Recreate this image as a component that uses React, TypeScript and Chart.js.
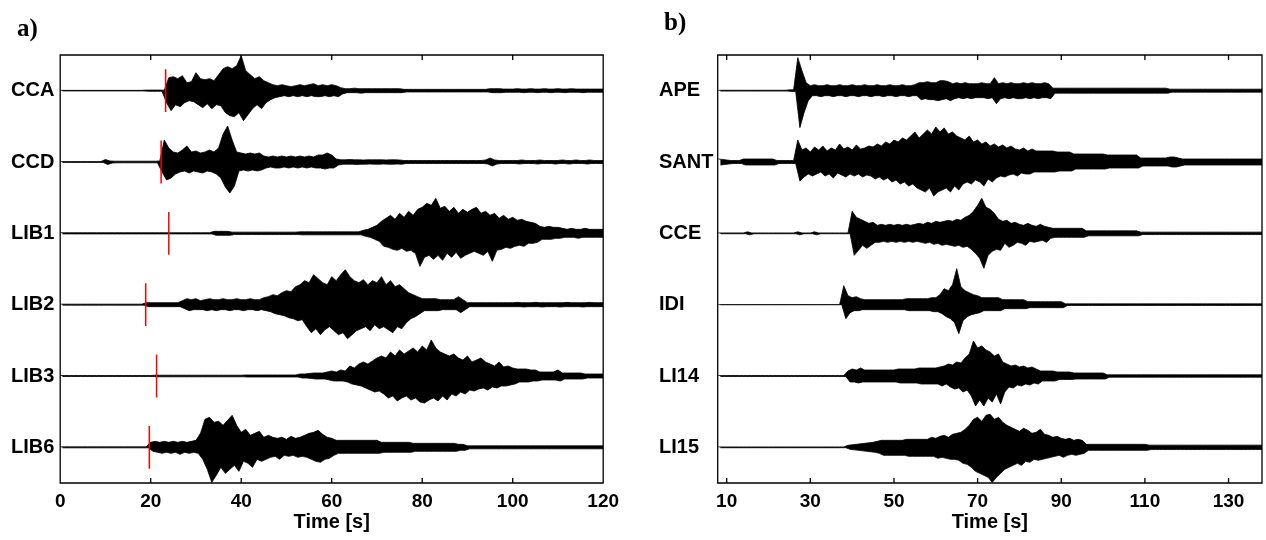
import React, { useEffect, useRef } from "react";
import { Chart, registerables } from "chart.js";

Chart.register(...registerables);

// ---------------- data ----------------
// Station names (top to bottom)
const STATIONS_A = ["CCA", "CCD", "LIB1", "LIB2", "LIB3", "LIB6"];
const STATIONS_B = ["APE", "SANT", "CCE", "IDI", "LI14", "LI15"];

// Time axis
const START_A = 0; // first second of panel a envelopes
const START_B = 8; // first second of panel b envelopes
const RANGE_A = [0, 120];
const RANGE_B = [7.85, 138];
const TICKS_A = [0, 20, 40, 60, 80, 100, 120];
const TICKS_B = [10, 30, 50, 70, 90, 110, 130];

// P-wave picks (s), panel a
const PICKS_A = [23.3, 22.3, 24.0, 18.9, 21.3, 19.7];

// Peak amplitudes per second (UP = upward swing, DN = downward swing), read
// from the traces; unit: 1/71.3 of the trace spacing.
const CCA_UP = [
  0.3, 0.3, 0.3, 0.3, 0.3, 0.3, 0.3, 0.3, 0.3, 0.3,
  0.3, 0.3, 0.3, 0.3, 0.3, 0.3, 0.3, 0.3, 0.3, 0.6,
  0.6, 0.6, 0.6, 0.5, 13, 14, 12, 15, 8, 9,
  18, 12, 11, 12, 10, 16, 22, 24, 22, 25,
  35, 20, 16, 12, 14, 10, 8, 6, 5, 6,
  5, 4, 5, 6, 5, 6, 7, 5, 6, 5,
  6, 5, 3, 2, 2, 2.5, 2, 2, 2, 2,
  2, 2, 2, 2, 2, 2, 1.3, 1.3, 1.3, 1.3,
  1.3, 1.3, 1.3, 1.3, 1.3, 1.3, 1.3, 1.3, 1.3, 1.3,
  1.3, 1.3, 1.3, 1.3, 1.3, 2, 2, 2, 1.6, 1.6,
  1.6, 2, 1.6, 1.6, 2, 1.6, 1.6, 2, 1.6, 1.6,
  2, 1.6, 1.6, 2, 1.6, 1.6, 1.6, 1.6, 1.6, 1.6,
  1.6,
];
const CCA_DN = [
  0.3, 0.3, 0.3, 0.3, 0.3, 0.3, 0.3, 0.3, 0.3, 0.3,
  0.3, 0.3, 0.3, 0.3, 0.3, 0.3, 0.3, 0.3, 0.3, 0.6,
  0.6, 0.6, 0.6, 12, 20, 14, 16, 12, 10, 11,
  14, 17, 13, 18, 14, 15, 22, 25, 26, 22,
  30, 24, 18, 14, 18, 12, 9, 7, 6, 5,
  6, 5, 6, 5, 6, 5, 6, 6, 5, 6,
  5, 6, 3, 2, 2, 2, 2.5, 2, 2, 2,
  2, 2, 2, 2, 2, 2, 1.3, 1.3, 1.3, 1.3,
  1.3, 1.3, 1.3, 1.3, 1.3, 1.3, 1.3, 1.3, 1.3, 1.3,
  1.3, 1.3, 1.3, 1.3, 1.3, 2, 2, 2, 1.6, 1.6,
  1.6, 1.6, 2, 1.6, 1.6, 2, 1.6, 1.6, 2, 1.6,
  1.6, 2, 1.6, 1.6, 1.6, 2, 1.6, 1.6, 1.6, 1.6,
  1.6,
];
const CCD_UP = [
  0.4, 0.4, 0.4, 0.4, 0.4, 0.4, 0.4, 0.4, 0.4, 0.4,
  2.5, 1, 0.8, 0.8, 0.8, 0.8, 0.8, 0.8, 0.8, 0.8,
  0.8, 0.8, 1, 22, 14, 10, 9, 12, 16, 10,
  11, 9, 10, 12, 10, 14, 28, 36, 22, 10,
  9, 8, 9, 8, 9, 6, 5, 6, 5, 6,
  5, 6, 5, 6, 5, 6, 5, 7, 7, 9,
  7, 3, 2.2, 2.2, 2.5, 2.2, 2.2, 2, 2.2, 2.2,
  2.2, 2.2, 2, 2.2, 2.2, 2, 1.5, 1.5, 1.5, 1.5,
  1.5, 1.5, 1.5, 1.5, 1.5, 1.5, 1.5, 1.5, 1.5, 1.5,
  1.5, 1.5, 1.5, 1.5, 2, 4, 2, 1.5, 1.5, 1.5,
  1.5, 1.5, 2, 1.5, 1.5, 1.5, 2, 1.5, 1.5, 1.5,
  1.5, 2, 1.5, 1.5, 2, 1.5, 1.5, 2, 1.5, 1.5,
  1.5,
];
const CCD_DN = [
  0.4, 0.4, 0.4, 0.4, 0.4, 0.4, 0.4, 0.4, 0.4, 0.4,
  2.5, 1, 0.8, 0.8, 0.8, 0.8, 0.8, 0.8, 0.8, 0.8,
  0.8, 0.8, 10, 18, 16, 12, 10, 9, 11, 9,
  10, 11, 9, 10, 12, 16, 25, 31, 24, 9,
  8, 9, 8, 9, 8, 6, 5, 6, 6, 5,
  6, 5, 6, 5, 6, 5, 6, 6, 7, 6,
  6, 3, 2.2, 2.2, 2.2, 2.5, 2.2, 2.2, 2, 2.2,
  2.2, 2, 2.2, 2.2, 2, 2.2, 1.5, 1.5, 1.5, 1.5,
  1.5, 1.5, 1.5, 1.5, 1.5, 1.5, 1.5, 1.5, 1.5, 1.5,
  1.5, 1.5, 1.5, 1.5, 2, 4, 2, 1.5, 1.5, 1.5,
  1.5, 2, 1.5, 1.5, 1.5, 2, 1.5, 1.5, 1.5, 2,
  1.5, 1.5, 2, 1.5, 1.5, 1.5, 2, 1.5, 1.5, 1.5,
  1.5,
];
const LIB1_UP = [
  0.6, 0.6, 0.6, 0.6, 0.6, 0.6, 0.6, 0.6, 0.6, 0.6,
  0.6, 0.6, 0.6, 0.6, 0.6, 0.6, 0.6, 0.6, 0.6, 0.6,
  0.6, 0.6, 0.6, 0.6, 0.6, 0.6, 0.6, 0.6, 0.6, 0.6,
  0.6, 0.6, 0.6, 0.6, 2, 2, 2, 2, 1.2, 1.2,
  1.2, 1.2, 1.2, 1.2, 1.2, 1.2, 1.2, 1.2, 1.2, 1.2,
  1.2, 1.2, 1.2, 1.5, 1.5, 1.5, 1.5, 1.5, 1.5, 1.5,
  1.5, 1.5, 1.5, 1.5, 1.5, 1.5, 1.5, 3, 4, 6,
  8, 12, 15, 18, 14, 20, 16, 22, 18, 24,
  26, 30, 28, 35, 25, 27, 22, 26, 20, 24,
  21, 24, 26, 20, 22, 18, 20, 15, 18, 14,
  16, 13, 14, 12, 11, 10, 7, 6, 7, 6,
  6, 5, 4, 5, 4, 4, 5, 4, 4, 4,
  4,
];
const LIB1_DN = [
  0.6, 0.6, 0.6, 0.6, 0.6, 0.6, 0.6, 0.6, 0.6, 0.6,
  0.6, 0.6, 0.6, 0.6, 0.6, 0.6, 0.6, 0.6, 0.6, 0.6,
  0.6, 0.6, 0.6, 0.6, 0.6, 0.6, 0.6, 0.6, 0.6, 0.6,
  0.6, 0.6, 0.6, 0.6, 2, 2, 2, 2, 1.2, 1.2,
  1.2, 1.2, 1.2, 1.2, 1.2, 1.2, 1.2, 1.2, 1.2, 1.2,
  1.2, 1.2, 1.2, 1.5, 1.5, 1.5, 1.5, 1.5, 1.5, 1.5,
  1.5, 1.5, 1.5, 1.5, 1.5, 1.5, 1.5, 3, 4, 6,
  8, 13, 14, 16, 17, 15, 18, 17, 20, 33,
  24, 22, 26, 22, 27, 20, 24, 19, 25, 22,
  20, 18, 20, 22, 18, 28, 17, 16, 14, 15,
  13, 12, 13, 10, 10, 9, 6, 6, 6, 5,
  5, 4, 4, 4, 5, 4, 4, 4, 4, 4,
  4,
];
const LIB2_UP = [
  0.5, 0.5, 0.5, 0.5, 0.5, 0.5, 0.5, 0.5, 0.5, 0.5,
  0.5, 0.5, 0.5, 0.5, 0.5, 0.5, 0.5, 0.5, 0.5, 2,
  2, 2, 2, 2, 2, 2, 2, 4, 6, 5,
  6, 4, 5, 6, 5, 5, 6, 5, 5, 6,
  5, 5, 6, 5, 5, 7, 8, 10, 9, 12,
  14, 13, 18, 20, 24, 22, 30, 26, 22, 20,
  28, 24, 30, 35, 28, 24, 22, 25, 20, 24,
  22, 28, 20, 24, 18, 20, 16, 12, 10, 8,
  6, 6, 6, 6, 5, 5, 5, 5, 8, 5,
  2, 2, 2, 2, 2, 2, 2, 2, 2, 2,
  2, 2.3, 2, 2, 2, 2.3, 2, 2, 2, 2,
  2, 2, 2.3, 2, 2, 2, 2, 2.3, 2, 2,
  2,
];
const LIB2_DN = [
  0.5, 0.5, 0.5, 0.5, 0.5, 0.5, 0.5, 0.5, 0.5, 0.5,
  0.5, 0.5, 0.5, 0.5, 0.5, 0.5, 0.5, 0.5, 0.5, 2,
  2, 2, 2, 2, 2, 2, 2, 4, 6, 5,
  5, 5, 6, 5, 6, 5, 5, 6, 5, 5,
  6, 5, 5, 6, 5, 6, 7, 9, 10, 11,
  13, 14, 16, 15, 22, 28, 24, 30, 25, 22,
  26, 30, 28, 34, 30, 26, 24, 22, 26, 20,
  24, 22, 25, 28, 22, 24, 18, 14, 12, 9,
  6, 6, 6, 6, 5, 5, 5, 5, 8, 5,
  2, 2, 2, 2, 2, 2, 2, 2, 2, 2,
  2, 2, 2.3, 2, 2, 2, 2.3, 2, 2, 2,
  2.3, 2, 2, 2, 2, 2.3, 2, 2, 2, 2,
  2,
];
const LIB3_UP = [
  0.5, 0.5, 0.5, 0.5, 0.5, 0.5, 0.5, 0.5, 0.5, 0.5,
  0.5, 0.5, 0.5, 0.5, 0.5, 0.5, 0.5, 0.5, 0.5, 0.5,
  0.5, 0.8, 0.8, 0.8, 0.8, 0.8, 0.8, 0.8, 0.8, 0.8,
  0.8, 0.8, 0.8, 0.8, 0.8, 0.8, 0.8, 0.8, 0.8, 0.8,
  0.8, 1, 1, 1, 1, 1, 1, 1, 1, 1,
  1, 1, 1, 2, 2, 2.5, 3, 3, 3, 4,
  5, 4, 6, 5, 10, 8, 12, 14, 12, 15,
  18, 20, 18, 24, 20, 26, 22, 25, 28, 24,
  30, 26, 36, 28, 24, 22, 20, 22, 18, 16,
  20, 14, 16, 18, 14, 12, 10, 14, 9, 10,
  8, 7, 7, 7, 6, 6, 4, 4, 4, 4,
  6, 3, 3, 3, 3, 3, 2, 2, 2, 2,
  2,
];
const LIB3_DN = [
  0.5, 0.5, 0.5, 0.5, 0.5, 0.5, 0.5, 0.5, 0.5, 0.5,
  0.5, 0.5, 0.5, 0.5, 0.5, 0.5, 0.5, 0.5, 0.5, 0.5,
  0.5, 0.8, 0.8, 0.8, 0.8, 0.8, 0.8, 0.8, 0.8, 0.8,
  0.8, 0.8, 0.8, 0.8, 0.8, 0.8, 0.8, 0.8, 0.8, 0.8,
  0.8, 1, 1, 1, 1, 1, 1, 1, 1, 1,
  1, 1, 1, 2, 2, 2.5, 3, 3, 3, 4,
  5, 5, 5, 6, 8, 9, 10, 12, 14, 16,
  15, 18, 22, 20, 25, 22, 20, 24, 22, 26,
  27, 24, 22, 25, 20, 24, 18, 20, 16, 18,
  14, 15, 13, 12, 14, 11, 12, 10, 10, 9,
  8, 6, 6, 6, 5, 5, 4, 4, 4, 4,
  5, 3, 3, 3, 3, 3, 2, 2, 2, 2,
  2,
];
const LIB6_UP = [
  0.5, 0.5, 0.5, 0.5, 0.5, 0.5, 0.5, 0.5, 0.5, 0.5,
  0.5, 0.5, 0.5, 0.5, 0.5, 0.5, 0.5, 0.5, 0.5, 0.5,
  5, 6, 5, 6, 5, 6, 5, 6, 5, 6,
  7, 14, 28, 30, 25, 26, 22, 27, 32, 22,
  15, 18, 12, 14, 16, 10, 12, 10, 9, 10,
  8, 11, 9, 10, 12, 14, 15, 17, 13, 10,
  9, 7, 7, 7, 7, 7, 7, 7, 7, 7,
  7, 5, 5, 5, 5, 5, 5, 5, 4, 4,
  4, 4, 4, 4, 4, 4, 4, 4, 3, 3,
  1.5, 1.5, 1.5, 1.5, 1.5, 1.5, 1.5, 1.5, 1.5, 1.5,
  1.5, 1.5, 1.5, 1.5, 1.5, 1.5, 1.5, 1.5, 1.5, 1.5,
  1.5, 1.5, 1.5, 1.5, 1.5, 1.5, 1.5, 1.5, 1.5, 1.5,
  1.5,
];
const LIB6_DN = [
  0.5, 0.5, 0.5, 0.5, 0.5, 0.5, 0.5, 0.5, 0.5, 0.5,
  0.5, 0.5, 0.5, 0.5, 0.5, 0.5, 0.5, 0.5, 0.5, 0.5,
  4, 5, 6, 5, 6, 5, 7, 5, 6, 5,
  6, 12, 22, 35, 28, 20, 26, 22, 18, 24,
  14, 16, 20, 12, 14, 12, 10, 9, 12, 8,
  9, 8, 10, 9, 10, 12, 14, 15, 12, 11,
  8, 6, 6, 6, 6, 6, 6, 6, 6, 6,
  6, 5, 5, 5, 5, 5, 5, 5, 4, 4,
  4, 4, 4, 4, 4, 4, 4, 4, 3, 3,
  1.5, 1.5, 1.5, 1.5, 1.5, 1.5, 1.5, 1.5, 1.5, 1.5,
  1.5, 1.5, 1.5, 1.5, 1.5, 1.5, 1.5, 1.5, 1.5, 1.5,
  1.5, 1.5, 1.5, 1.5, 1.5, 1.5, 1.5, 1.5, 1.5, 1.5,
  1.5,
];

// Panel b, seconds 8..138
const APE_UP = [
  0.4, 0.4, 0.4, 0.4, 0.4, 0.4, 0.4, 0.4, 0.4, 0.4,
  0.4, 0.4, 0.4, 0.4, 0.4, 0.4, 0.4, 0.8, 0.8, 33,
  20, 8, 5, 6, 5, 5, 6, 5, 5, 6,
  5, 5, 6, 5, 5, 6, 5, 5, 6, 5,
  5, 6, 5, 5, 6, 5, 5, 6, 8, 8,
  9, 8, 8, 10, 10, 9, 7, 8, 7, 8,
  7, 7, 7, 8, 7, 7, 13, 7, 8, 7,
  8, 7, 7, 8, 7, 8, 7, 7, 8, 7,
  2.5, 2.5, 2.5, 2.5, 2.5, 2.5, 2.5, 2.5, 2.5, 2.5,
  2.5, 2.5, 2.5, 2.5, 2.5, 2.5, 2.5, 2.5, 2.5, 2.5,
  2.5, 2.5, 2.5, 2.5, 2.5, 2.5, 2.5, 2.5, 1.5, 1.5,
  1.5, 1.5, 1.5, 1.5, 1.5, 1.5, 1.5, 1.5, 1.5, 1.5,
  1.5, 1.5, 1.5, 1.5, 1.5, 1.5, 1.5, 1.5, 1.5, 1.5,
  1.5,
];
const APE_DN = [
  0.4, 0.4, 0.4, 0.4, 0.4, 0.4, 0.4, 0.4, 0.4, 0.4,
  0.4, 0.4, 0.4, 0.4, 0.4, 0.4, 0.4, 0.8, 0.8, 37,
  22, 10, 5, 5, 6, 5, 5, 6, 5, 5,
  6, 5, 5, 6, 5, 5, 6, 5, 5, 6,
  5, 5, 6, 5, 5, 6, 5, 5, 9, 8,
  9, 9, 10, 9, 8, 10, 8, 7, 8, 7,
  8, 7, 7, 7, 8, 7, 13, 8, 7, 8,
  7, 8, 8, 7, 8, 7, 8, 7, 7, 8,
  2.5, 2.5, 2.5, 2.5, 2.5, 2.5, 2.5, 2.5, 2.5, 2.5,
  2.5, 2.5, 2.5, 2.5, 2.5, 2.5, 2.5, 2.5, 2.5, 2.5,
  2.5, 2.5, 2.5, 2.5, 2.5, 2.5, 2.5, 2.5, 1.5, 1.5,
  1.5, 1.5, 1.5, 1.5, 1.5, 1.5, 1.5, 1.5, 1.5, 1.5,
  1.5, 1.5, 1.5, 1.5, 1.5, 1.5, 1.5, 1.5, 1.5, 1.5,
  1.5,
];
const SANT_UP = [
  3, 2.5, 2, 1.5, 1.5, 1.5, 3, 3, 3, 3,
  3, 3, 3, 3, 1.5, 1.5, 1.5, 1.5, 1.5, 22,
  12, 14, 10, 15, 12, 16, 11, 14, 12, 18,
  13, 15, 12, 17, 13, 14, 16, 15, 18, 16,
  20, 18, 22, 20, 24, 22, 26, 30, 24, 28,
  32, 28, 35, 30, 34, 28, 30, 26, 24, 22,
  26, 20, 22, 18, 20, 16, 18, 15, 17, 14,
  16, 13, 12, 14, 11, 13, 11, 11, 11, 11,
  11, 10, 10, 10, 10, 8, 8, 8, 8, 8,
  8, 8, 8, 7, 7, 7, 7, 7, 7, 7,
  7, 4, 4, 4, 4, 4, 4, 4, 5, 5,
  4, 3, 3, 3, 3, 3, 3, 3, 3, 3,
  3, 3, 3, 3, 3, 3, 3, 3, 3, 3,
  3,
];
const SANT_DN = [
  3, 2.5, 2, 1.5, 1.5, 1.5, 3, 3, 3, 3,
  3, 3, 3, 3, 1.5, 1.5, 1.5, 1.5, 1.5, 19,
  15, 12, 14, 12, 10, 14, 12, 16, 11, 13,
  15, 12, 14, 12, 15, 13, 14, 17, 15, 18,
  16, 20, 18, 22, 20, 24, 22, 26, 28, 30,
  26, 34, 30, 28, 26, 30, 24, 28, 22, 20,
  22, 18, 20, 24, 17, 20, 16, 14, 15, 13,
  12, 14, 11, 12, 12, 10, 10, 10, 10, 10,
  10, 9, 9, 9, 9, 7, 7, 7, 7, 7,
  7, 7, 7, 6, 6, 6, 6, 6, 6, 6,
  6, 4, 4, 4, 4, 4, 4, 4, 5, 5,
  4, 3, 3, 3, 3, 3, 3, 3, 3, 3,
  3, 3, 3, 3, 3, 3, 3, 3, 3, 3,
  3,
];
const CCE_UP = [
  0.4, 0.4, 0.4, 0.4, 0.4, 0.4, 0.4, 1.5, 0.4, 0.4,
  0.4, 0.4, 0.4, 0.4, 0.4, 0.4, 0.4, 0.4, 0.4, 1.5,
  0.4, 0.4, 0.4, 1.5, 0.4, 0.4, 0.4, 0.4, 0.4, 0.4,
  0.4, 0.4, 22, 16, 14, 12, 10, 11, 8, 9,
  8, 9, 8, 9, 8, 9, 8, 9, 10, 9,
  11, 10, 12, 11, 12, 13, 12, 14, 13, 16,
  18, 22, 28, 35, 26, 24, 20, 14, 12, 13,
  10, 11, 9, 8, 10, 8, 7, 9, 7, 6,
  5, 5, 5, 5, 5, 5, 5, 5, 2.5, 2.5,
  2.5, 2.5, 2.5, 2.5, 2.5, 2.5, 2.5, 2.5, 2.5, 2.5,
  2.5, 1.2, 1.2, 1.2, 1.2, 1.2, 1.2, 1.2, 1.2, 1.2,
  1.2, 1.2, 1.2, 1.2, 1.2, 1.2, 1.2, 1.2, 1.2, 1.2,
  1.2, 1.2, 1.2, 1.2, 1.2, 1.2, 1.2, 1.2, 1.2, 1.2,
  1.2,
];
const CCE_DN = [
  0.4, 0.4, 0.4, 0.4, 0.4, 0.4, 0.4, 1.5, 0.4, 0.4,
  0.4, 0.4, 0.4, 0.4, 0.4, 0.4, 0.4, 0.4, 0.4, 1.5,
  0.4, 0.4, 0.4, 1.5, 0.4, 0.4, 0.4, 0.4, 0.4, 0.4,
  0.4, 0.4, 22, 17, 12, 15, 12, 9, 9, 8,
  9, 8, 9, 8, 9, 8, 9, 8, 9, 10,
  9, 11, 10, 12, 11, 12, 13, 12, 14, 13,
  16, 20, 25, 35, 22, 18, 16, 17, 10, 14,
  12, 9, 10, 12, 8, 9, 8, 7, 9, 5,
  4, 4, 4, 4, 4, 4, 4, 4, 2.5, 2.5,
  2.5, 2.5, 2.5, 2.5, 2.5, 2.5, 2.5, 2.5, 2.5, 2.5,
  2.5, 1.2, 1.2, 1.2, 1.2, 1.2, 1.2, 1.2, 1.2, 1.2,
  1.2, 1.2, 1.2, 1.2, 1.2, 1.2, 1.2, 1.2, 1.2, 1.2,
  1.2, 1.2, 1.2, 1.2, 1.2, 1.2, 1.2, 1.2, 1.2, 1.2,
  1.2,
];
const IDI_UP = [
  0, 0, 0, 0, 0, 0, 0, 0, 0, 0,
  0, 0, 0, 0, 0, 0, 0, 0, 0, 0,
  0, 0, 0, 0, 0, 0, 0, 0, 0, 0,
  19, 9, 7, 8, 6, 5, 5, 5, 5, 5,
  5, 5, 5, 5, 5, 6, 6, 6, 6, 6,
  6, 7, 7, 10, 16, 14, 20, 36, 18, 14,
  12, 10, 9, 7, 7, 7, 7, 7, 5, 5,
  5, 5, 5, 5, 3, 3, 3, 3, 3, 3,
  3, 3, 3, 0.8, 0.8, 0.8, 0.8, 0.8, 0.8, 0.8,
  0.8, 0.8, 0.8, 0.8, 0.8, 0.8, 0.8, 0.8, 0.8, 0.8,
  0.8, 0.8, 0.8, 0.8, 0.8, 0.8, 0.8, 0.8, 0.8, 0.8,
  0.8, 0.8, 0.8, 0.8, 0.8, 0.8, 0.8, 0.8, 0.8, 0.8,
  0.8, 0.8, 0.8, 0.8, 0.8, 0.8, 0.8, 0.8, 0.8, 0.8,
  0.8,
];
const IDI_DN = [
  0, 0, 0, 0, 0, 0, 0, 0, 0, 0,
  0, 0, 0, 0, 0, 0, 0, 0, 0, 0,
  0, 0, 0, 0, 0, 0, 0, 0, 0, 0,
  14, 8, 6, 6, 5, 5, 5, 5, 5, 5,
  5, 5, 5, 5, 5, 6, 6, 6, 6, 6,
  6, 7, 7, 9, 12, 14, 18, 29, 16, 12,
  10, 9, 8, 6, 6, 6, 6, 6, 4, 4,
  4, 4, 4, 4, 3, 3, 3, 3, 3, 3,
  3, 3, 3, 0.8, 0.8, 0.8, 0.8, 0.8, 0.8, 0.8,
  0.8, 0.8, 0.8, 0.8, 0.8, 0.8, 0.8, 0.8, 0.8, 0.8,
  0.8, 0.8, 0.8, 0.8, 0.8, 0.8, 0.8, 0.8, 0.8, 0.8,
  0.8, 0.8, 0.8, 0.8, 0.8, 0.8, 0.8, 0.8, 0.8, 0.8,
  0.8, 0.8, 0.8, 0.8, 0.8, 0.8, 0.8, 0.8, 0.8, 0.8,
  0.8,
];
const LI14_UP = [
  0.5, 0.5, 0.5, 0.5, 0.5, 0.5, 0.5, 0.5, 0.5, 0.5,
  0.5, 0.5, 0.5, 0.5, 0.5, 0.5, 0.5, 0.5, 0.5, 0.5,
  0.5, 0.5, 0.5, 0.5, 0.5, 0.5, 0.5, 0.5, 0.5, 0.5,
  0.5, 5, 7, 6, 8, 6, 6, 6, 6, 6,
  6, 6, 6, 7, 7, 7, 7, 7, 8, 8,
  8, 8, 8, 9, 10, 12, 11, 14, 13, 18,
  22, 35, 28, 30, 26, 24, 20, 22, 14, 12,
  10, 11, 9, 10, 8, 9, 7, 5, 5, 5,
  5, 4, 4, 4, 4, 3, 3, 3, 3, 3,
  3, 3, 3, 1.2, 1.2, 1.2, 1.2, 1.2, 1.2, 1.2,
  1.2, 1.2, 1.2, 1.2, 1.2, 1.2, 1.2, 1.2, 1.2, 1.2,
  1.2, 1.2, 1.2, 1.2, 1.2, 1.2, 1.2, 1.2, 1.2, 1.2,
  1.2, 1.2, 1.2, 1.2, 1.2, 1.2, 1.2, 1.2, 1.2, 1.2,
  1.2,
];
const LI14_DN = [
  0.5, 0.5, 0.5, 0.5, 0.5, 0.5, 0.5, 0.5, 0.5, 0.5,
  0.5, 0.5, 0.5, 0.5, 0.5, 0.5, 0.5, 0.5, 0.5, 0.5,
  0.5, 0.5, 0.5, 0.5, 0.5, 0.5, 0.5, 0.5, 0.5, 0.5,
  0.5, 6, 6, 7, 6, 6, 6, 6, 6, 6,
  6, 6, 6, 7, 7, 7, 7, 7, 8, 8,
  8, 8, 8, 10, 8, 11, 13, 12, 16, 14,
  20, 30, 24, 30, 22, 26, 18, 28, 16, 11,
  12, 9, 10, 8, 9, 7, 8, 5, 5, 5,
  5, 3.5, 3.5, 3.5, 3.5, 3, 3, 3, 3, 3,
  3, 3, 3, 1.2, 1.2, 1.2, 1.2, 1.2, 1.2, 1.2,
  1.2, 1.2, 1.2, 1.2, 1.2, 1.2, 1.2, 1.2, 1.2, 1.2,
  1.2, 1.2, 1.2, 1.2, 1.2, 1.2, 1.2, 1.2, 1.2, 1.2,
  1.2, 1.2, 1.2, 1.2, 1.2, 1.2, 1.2, 1.2, 1.2, 1.2,
  1.2,
];
const LI15_UP = [
  0.4, 0.4, 0.4, 0.4, 0.4, 0.4, 0.4, 0.4, 0.4, 0.4,
  0.4, 0.4, 0.4, 0.4, 0.4, 0.4, 0.4, 0.4, 0.4, 0.4,
  0.4, 0.4, 0.4, 0.4, 0.4, 0.4, 0.4, 0.4, 0.4, 0.4,
  0.4, 2, 2.5, 3, 3.5, 4, 4.5, 5, 6, 7,
  7, 7, 7, 7, 7, 8, 8, 8, 8, 8,
  8, 10, 9, 11, 12, 10, 13, 14, 15, 18,
  22, 28, 30, 26, 32, 33, 28, 30, 25, 22,
  20, 18, 16, 19, 17, 14, 15, 18, 13, 12,
  10, 11, 9, 8, 9, 7, 8, 7, 3, 3,
  3, 3, 3, 3, 3, 3, 3, 3, 3, 3,
  3, 3, 3, 2.2, 2.2, 2.2, 2.2, 2.2, 2.2, 2.2,
  2.2, 2.2, 2.2, 2.2, 2.2, 2.2, 2.2, 2.2, 2.2, 2.2,
  2.2, 2.2, 2.2, 2.2, 2.2, 2.2, 2.2, 2.2, 2.2, 2.2,
  2.2,
];
const LI15_DN = [
  0.4, 0.4, 0.4, 0.4, 0.4, 0.4, 0.4, 0.4, 0.4, 0.4,
  0.4, 0.4, 0.4, 0.4, 0.4, 0.4, 0.4, 0.4, 0.4, 0.4,
  0.4, 0.4, 0.4, 0.4, 0.4, 0.4, 0.4, 0.4, 0.4, 0.4,
  0.4, 2, 2.5, 3, 3.5, 4, 4.5, 5, 6, 8,
  8, 8, 8, 8, 8, 9, 9, 9, 9, 9,
  9, 9, 11, 10, 11, 12, 12, 13, 16, 17,
  20, 24, 26, 28, 30, 35, 30, 26, 22, 20,
  18, 16, 18, 14, 15, 12, 13, 12, 11, 10,
  9, 8, 10, 8, 7, 8, 7, 6, 3, 3,
  3, 3, 3, 3, 3, 3, 3, 3, 3, 3,
  3, 3, 3, 2.2, 2.2, 2.2, 2.2, 2.2, 2.2, 2.2,
  2.2, 2.2, 2.2, 2.2, 2.2, 2.2, 2.2, 2.2, 2.2, 2.2,
  2.2, 2.2, 2.2, 2.2, 2.2, 2.2, 2.2, 2.2, 2.2, 2.2,
  2.2,
];

const TRACES_A = [
  [CCA_UP, CCA_DN], [CCD_UP, CCD_DN], [LIB1_UP, LIB1_DN],
  [LIB2_UP, LIB2_DN], [LIB3_UP, LIB3_DN], [LIB6_UP, LIB6_DN],
];
const TRACES_B = [
  [APE_UP, APE_DN], [SANT_UP, SANT_DN], [CCE_UP, CCE_DN],
  [IDI_UP, IDI_DN], [LI14_UP, LI14_DN], [LI15_UP, LI15_DN],
];

// ---------------- chart ----------------
const AMP_PER_TRACE = 71.3; // amplitude units per trace spacing
const PICK_HALF = 0.3; // half height of pick mark, in trace spacings
const FONT = 'Arial, "Liberation Sans", Helvetica, sans-serif';

function upperEdge(up: number[], start: number, pos: number) {
  return up.map((a, i) => ({ x: start + i, y: pos - a / AMP_PER_TRACE }));
}
function lowerEdge(dn: number[], start: number, pos: number) {
  return dn.map((a, i) => ({ x: start + i + 0.5, y: pos + a / AMP_PER_TRACE }));
}

const framePlugin = {
  id: "frame",
  afterDatasetsDraw(chart: any) {
    const { ctx, chartArea } = chart;
    const { left, right, top, bottom } = chartArea;
    const x = chart.scales.x;
    ctx.save();
    ctx.strokeStyle = "#000";
    ctx.lineWidth = 1.3;
    ctx.beginPath();
    ctx.rect(left, top, right - left, bottom - top);
    for (const t of x.ticks) {
      const px = x.getPixelForValue(t.value);
      ctx.moveTo(px, bottom);
      ctx.lineTo(px, bottom - 5);
      ctx.moveTo(px, top);
      ctx.lineTo(px, top + 5);
    }
    ctx.stroke();
    ctx.restore();
  },
};

type PanelProps = {
  names: string[];
  traces: number[][][];
  start: number;
  range: number[];
  ticks: number[];
  picks: number[];
  padLeft: number;
  axisWidth: number;
  padRight: number;
  width: number;
};

function Panel(p: PanelProps) {
  const ref = useRef<HTMLCanvasElement | null>(null);
  useEffect(() => {
    if (!ref.current) return;
    const datasets: any[] = [];
    p.picks.forEach((t, i) => {
      datasets.push({
        data: [
          { x: t, y: i + 1 - PICK_HALF },
          { x: t, y: i + 1 + PICK_HALF },
        ],
        borderColor: "#ff0000",
        borderWidth: 1.5,
        pointRadius: 0,
        fill: false,
      });
    });
    p.traces.forEach(([up, dn], i) => {
      datasets.push({
        data: upperEdge(up, p.start, i + 1),
        borderColor: "#000",
        backgroundColor: "#000",
        borderWidth: 0.8,
        pointRadius: 0,
        tension: 0,
        fill: "+1",
      });
      datasets.push({
        data: lowerEdge(dn, p.start, i + 1),
        borderColor: "#000",
        borderWidth: 0.8,
        pointRadius: 0,
        tension: 0,
        fill: false,
      });
    });
    const chart = new Chart(ref.current, {
      type: "line",
      data: { datasets },
      plugins: [framePlugin],
      options: {
        animation: false,
        responsive: false,
        maintainAspectRatio: false,
        devicePixelRatio: 1,
        events: [],
        layout: { padding: { left: p.padLeft, right: p.padRight, top: 55, bottom: 0 } },
        plugins: { legend: { display: false }, tooltip: { enabled: false } },
        scales: {
          x: {
            type: "linear",
            min: p.range[0],
            max: p.range[1],
            afterBuildTicks: (s: any) => {
              s.ticks = p.ticks.map((v) => ({ value: v }));
            },
            afterFit: (s: any) => {
              s.height = 57;
            },
            grid: { display: false, drawTicks: false },
            border: { display: false },
            ticks: {
              autoSkip: false,
              maxRotation: 0,
              padding: 7,
              color: "#000",
              font: { family: FONT, size: 19, weight: "bold" },
            },
            title: {
              display: true,
              text: "Time [s]",
              color: "#000",
              padding: { top: 0, bottom: 6 },
              font: { family: FONT, size: 20, weight: "bold" },
            },
          },
          y: {
            type: "linear",
            reverse: true,
            min: 0.5,
            max: 6.5,
            afterBuildTicks: (s: any) => {
              s.ticks = p.names.map((_, i) => ({ value: i + 1 }));
            },
            afterFit: (s: any) => {
              s.width = p.axisWidth;
            },
            grid: { display: false, drawTicks: false },
            border: { display: false },
            ticks: {
              crossAlign: "far",
              padding: 0,
              color: "#000",
              font: { family: FONT, size: 20, weight: "bold" },
              callback: (v: any) => p.names[Math.round(Number(v)) - 1] ?? "",
            },
          },
        },
      } as any,
    });
    return () => chart.destroy();
  }, []);
  return <canvas ref={ref} width={p.width} height={540} style={{ width: p.width, height: 540, display: "block" }} />;
}

export default function App() {
  return (
    <div style={{ position: "absolute", left: 0, top: 0, width: 1266, height: 540, background: "#fff" }}>
      <div style={{ position: "absolute", left: 0, top: 0 }}>
        <Panel
          names={STATIONS_A}
          traces={TRACES_A}
          start={START_A}
          range={RANGE_A}
          ticks={TICKS_A}
          picks={PICKS_A}
          padLeft={11}
          axisWidth={49.2}
          padRight={29.8}
          width={633}
        />
      </div>
      <div style={{ position: "absolute", left: 633, top: 0 }}>
        <Panel
          names={STATIONS_B}
          traces={TRACES_B}
          start={START_B}
          range={RANGE_B}
          ticks={TICKS_B}
          picks={[]}
          padLeft={26}
          axisWidth={58.7}
          padRight={4}
          width={633}
        />
      </div>
      <div
        style={{
          position: "absolute",
          left: 17,
          top: 15,
          font: 'bold 25px "Liberation Serif", "Times New Roman", serif',
          lineHeight: "25px",
        }}
      >
        a)
      </div>
      <div
        style={{
          position: "absolute",
          left: 664,
          top: 9,
          font: 'bold 25px "Liberation Serif", "Times New Roman", serif',
          lineHeight: "25px",
        }}
      >
        b)
      </div>
    </div>
  );
}
